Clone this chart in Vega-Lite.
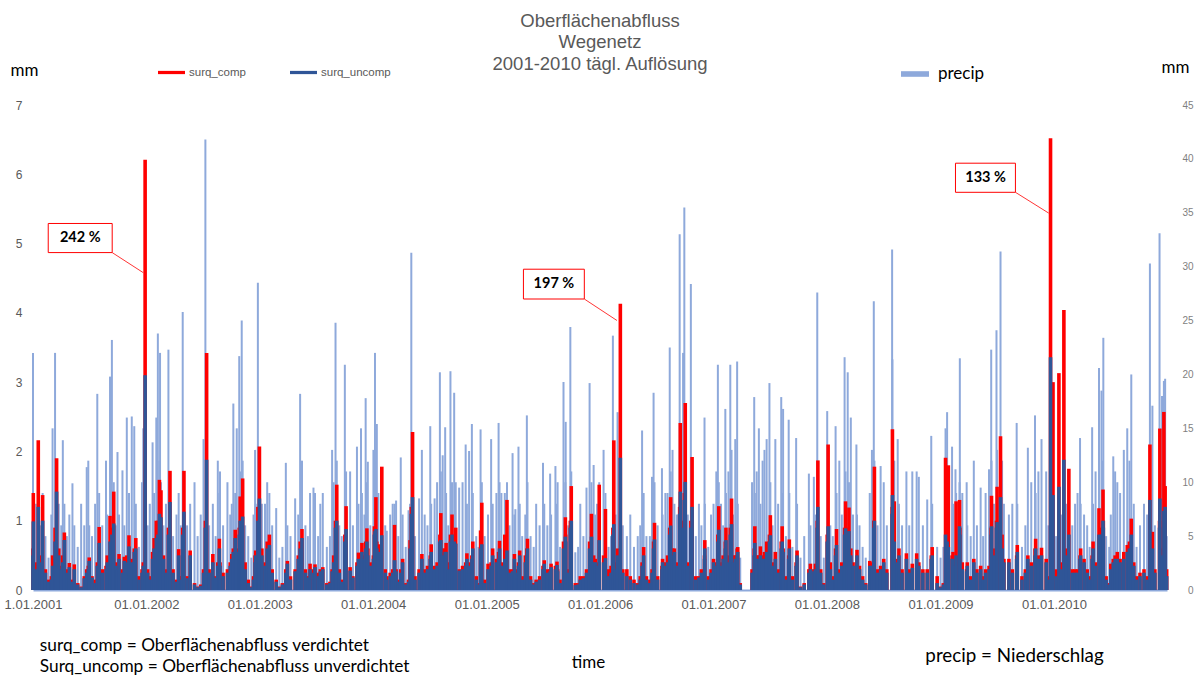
{
"$schema":"https://vega.github.io/schema/vega-lite/v6.json",
"autosize":{"type":"none"},
"padding":{"left":33,"top":105,"right":30,"bottom":87},
"width":1134,"height":485,
"background":"white",
"config":{"view":{"stroke":null}},
"title":{"text":["Oberflächenabfluss","Wegenetz","2001-2010 tägl. Auflösung"],"font":"Liberation Sans","fontSize":18.5,"fontWeight":"normal","color":"#595959","lineHeight":21.5,"anchor":"middle","frame":"group","offset":31,"dy":46},
"datasets":{
"main":[
{"t":"2001-01-01","p":22,"c":0.6,"u":0.5},
{"t":"2001-01-02","p":9,"c":1.4,"u":0.99},
{"t":"2001-01-10","p":8,"c":0.4,"u":0.3},
{"t":"2001-01-18","p":12,"c":2.16,"u":1.2},
{"t":"2001-01-25","p":6,"c":0.5,"u":0.4},
{"t":"2001-02-01","p":9,"c":1.37,"u":1.0},
{"t":"2001-02-10","p":5,"c":0.3,"u":0.25},
{"t":"2001-02-20","p":3,"c":0.15,"u":0.12},
{"t":"2001-03-01","p":7,"c":0.2,"u":0.15},
{"t":"2001-03-05","p":15,"c":0.5,"u":0.35},
{"t":"2001-03-13","p":22,"c":0.9,"u":0.7},
{"t":"2001-03-18","p":12,"c":1.9,"u":1.42},
{"t":"2001-03-25","p":8,"c":0.6,"u":0.5},
{"t":"2001-04-02","p":6,"c":0.35,"u":0.3},
{"t":"2001-04-07","p":13.9,"c":0.5,"u":0.4},
{"t":"2001-04-12","p":8,"c":0.83,"u":0.72},
{"t":"2001-04-20","p":5,"c":0.3,"u":0.25},
{"t":"2001-04-28","p":7,"c":0.39,"u":0.33},
{"t":"2001-05-08","p":9.9,"c":0.15,"u":0.12},
{"t":"2001-05-14","p":6,"c":0.37,"u":0.3},
{"t":"2001-05-25","p":4,"c":0.1,"u":0.08},
{"t":"2001-06-05","p":8,"c":0.05,"u":0.04},
{"t":"2001-06-15","p":6,"c":0.2,"u":0.17},
{"t":"2001-06-23","p":11.4,"c":0.3,"u":0.25},
{"t":"2001-06-28","p":12,"c":0.35,"u":0.3},
{"t":"2001-07-01","p":6,"c":0.47,"u":0.42},
{"t":"2001-07-10","p":5,"c":0.2,"u":0.18},
{"t":"2001-07-20","p":8,"c":0.15,"u":0.1},
{"t":"2001-07-27","p":18.2,"c":0.4,"u":0.35},
{"t":"2001-08-02","p":9,"c":0.91,"u":0.68},
{"t":"2001-08-12","p":6,"c":0.3,"u":0.25},
{"t":"2001-08-24","p":12,"c":0.35,"u":0.3},
{"t":"2001-08-28","p":7,"c":0.5,"u":0.4},
{"t":"2001-09-06","p":19.8,"c":1.07,"u":0.7},
{"t":"2001-09-12","p":23.2,"c":0.9,"u":0.8},
{"t":"2001-09-18","p":10,"c":1.42,"u":0.96},
{"t":"2001-09-25","p":6,"c":0.4,"u":0.35},
{"t":"2001-09-30","p":12.8,"c":0.35,"u":0.3},
{"t":"2001-10-05","p":7,"c":0.52,"u":0.45},
{"t":"2001-10-16","p":11.1,"c":0.3,"u":0.25},
{"t":"2001-10-22","p":6,"c":0.48,"u":0.42},
{"t":"2001-10-30","p":16,"c":0.5,"u":0.4},
{"t":"2001-11-06","p":9,"c":0.79,"u":0.63},
{"t":"2001-11-15","p":16.1,"c":0.45,"u":0.4},
{"t":"2001-11-23","p":15.2,"c":0.6,"u":0.55},
{"t":"2001-11-28","p":8,"c":0.75,"u":0.6},
{"t":"2001-12-08","p":4,"c":0.2,"u":0.15},
{"t":"2001-12-18","p":10,"c":0.3,"u":0.25},
{"t":"2001-12-22","p":15,"c":0.4,"u":0.35},
{"t":"2001-12-28","p":15,"c":6.21,"u":3.1},
{"t":"2002-01-05","p":6,"c":0.3,"u":0.25},
{"t":"2002-01-12","p":8,"c":0.2,"u":0.15},
{"t":"2002-01-21","p":13.7,"c":0.55,"u":0.45},
{"t":"2002-01-26","p":9,"c":0.75,"u":0.6},
{"t":"2002-02-02","p":16,"c":1.0,"u":0.75},
{"t":"2002-02-07","p":23.8,"c":1.0,"u":0.8},
{"t":"2002-02-12","p":12,"c":1.59,"u":1.1},
{"t":"2002-02-14","p":22,"c":0.9,"u":0.8},
{"t":"2002-02-17","p":10,"c":1.44,"u":1.05},
{"t":"2002-02-25","p":6,"c":0.5,"u":0.45},
{"t":"2002-03-05","p":8,"c":0.3,"u":0.25},
{"t":"2002-03-13","p":22.3,"c":0.9,"u":0.8},
{"t":"2002-03-18","p":11,"c":1.72,"u":1.27},
{"t":"2002-03-28","p":5,"c":0.3,"u":0.25},
{"t":"2002-04-08","p":7,"c":0.15,"u":0.12},
{"t":"2002-04-15","p":9,"c":0.59,"u":0.5},
{"t":"2002-04-22","p":6,"c":0.2,"u":0.15},
{"t":"2002-04-28","p":25.8,"c":0.9,"u":0.8},
{"t":"2002-05-02","p":10,"c":1.72,"u":1.13},
{"t":"2002-05-12","p":6,"c":0.2,"u":0.17},
{"t":"2002-05-22","p":8,"c":0.57,"u":0.5},
{"t":"2002-06-05","p":10,"c":0.1,"u":0.08},
{"t":"2002-06-15","p":5,"c":0.05,"u":0.04},
{"t":"2002-06-25","p":7,"c":0.08,"u":0.06},
{"t":"2002-07-04","p":14,"c":0.3,"u":0.25},
{"t":"2002-07-10","p":41.8,"c":1.0,"u":0.9},
{"t":"2002-07-14","p":12,"c":3.42,"u":1.88},
{"t":"2002-07-22","p":6,"c":0.3,"u":0.25},
{"t":"2002-08-03","p":8,"c":0.52,"u":0.4},
{"t":"2002-08-12","p":5,"c":0.2,"u":0.18},
{"t":"2002-08-19","p":12,"c":0.4,"u":0.35},
{"t":"2002-08-24","p":9,"c":0.74,"u":0.6},
{"t":"2002-08-26","p":11,"c":0.4,"u":0.35},
{"t":"2002-09-05","p":6,"c":0.25,"u":0.2},
{"t":"2002-09-19","p":10,"c":0.3,"u":0.25},
{"t":"2002-09-28","p":7,"c":0.4,"u":0.35},
{"t":"2002-10-03","p":8,"c":0.52,"u":0.45},
{"t":"2002-10-08","p":17.3,"c":0.6,"u":0.55},
{"t":"2002-10-14","p":9,"c":0.87,"u":0.75},
{"t":"2002-10-19","p":15,"c":0.6,"u":0.55},
{"t":"2002-10-27","p":21.7,"c":0.9,"u":0.8},
{"t":"2002-10-30","p":11,"c":1.35,"u":1.0},
{"t":"2002-11-04","p":25,"c":1.0,"u":0.9},
{"t":"2002-11-07","p":12,"c":1.61,"u":1.06},
{"t":"2002-11-15","p":6,"c":0.4,"u":0.3},
{"t":"2002-11-25","p":5,"c":0.15,"u":0.1},
{"t":"2002-12-05","p":3,"c":0.05,"u":0.04},
{"t":"2002-12-12","p":7,"c":0.2,"u":0.15},
{"t":"2002-12-17","p":13,"c":0.5,"u":0.4},
{"t":"2002-12-19","p":8,"c":0.57,"u":0.5},
{"t":"2002-12-26","p":28.5,"c":1.2,"u":1.0},
{"t":"2002-12-31","p":12,"c":2.07,"u":1.32},
{"t":"2003-01-08","p":8,"c":0.6,"u":0.5},
{"t":"2003-01-18","p":8,"c":0.4,"u":0.35},
{"t":"2003-01-25","p":10,"c":0.7,"u":0.6},
{"t":"2003-02-01","p":9,"c":0.8,"u":0.65},
{"t":"2003-02-10","p":6,"c":0.3,"u":0.25},
{"t":"2003-02-23","p":7.6,"c":0.15,"u":0.12},
{"t":"2003-03-05","p":3,"c":0.05,"u":0.04},
{"t":"2003-03-15","p":4,"c":0.1,"u":0.08},
{"t":"2003-03-26","p":11.8,"c":0.3,"u":0.25},
{"t":"2003-03-31","p":6,"c":0.42,"u":0.38},
{"t":"2003-04-10","p":5,"c":0.2,"u":0.15},
{"t":"2003-04-25","p":8.5,"c":0.3,"u":0.27},
{"t":"2003-05-05","p":7,"c":0.5,"u":0.45},
{"t":"2003-05-11","p":18.2,"c":0.7,"u":0.6},
{"t":"2003-05-17","p":12,"c":0.88,"u":0.75},
{"t":"2003-05-28","p":6,"c":0.3,"u":0.25},
{"t":"2003-06-05","p":5,"c":0.2,"u":0.18},
{"t":"2003-06-12","p":9,"c":0.38,"u":0.3},
{"t":"2003-06-23","p":9.5,"c":0.3,"u":0.25},
{"t":"2003-06-28","p":9,"c":0.37,"u":0.33},
{"t":"2003-07-08","p":5,"c":0.25,"u":0.2},
{"t":"2003-07-15","p":8,"c":0.3,"u":0.27},
{"t":"2003-07-23","p":9,"c":0.33,"u":0.3},
{"t":"2003-08-05","p":4,"c":0.1,"u":0.08},
{"t":"2003-08-15","p":5,"c":0.12,"u":0.1},
{"t":"2003-08-22","p":13,"c":0.3,"u":0.27},
{"t":"2003-08-27","p":10,"c":0.5,"u":0.4},
{"t":"2003-09-02","p":24.8,"c":1.0,"u":0.9},
{"t":"2003-09-06","p":12,"c":1.52,"u":1.0},
{"t":"2003-09-14","p":6,"c":0.3,"u":0.25},
{"t":"2003-09-22","p":5,"c":0.15,"u":0.12},
{"t":"2003-10-02","p":20.9,"c":0.8,"u":0.7},
{"t":"2003-10-06","p":11,"c":1.21,"u":0.88},
{"t":"2003-10-19","p":11,"c":0.33,"u":0.28},
{"t":"2003-10-28","p":6,"c":0.2,"u":0.18},
{"t":"2003-11-10","p":13.3,"c":0.4,"u":0.35},
{"t":"2003-11-15","p":8,"c":0.54,"u":0.45},
{"t":"2003-11-23","p":15,"c":0.5,"u":0.45},
{"t":"2003-11-26","p":9,"c":0.68,"u":0.55},
{"t":"2003-12-04","p":7,"c":0.5,"u":0.45},
{"t":"2003-12-08","p":17.8,"c":0.7,"u":0.6},
{"t":"2003-12-12","p":10,"c":0.89,"u":0.7},
{"t":"2003-12-15","p":11.9,"c":0.6,"u":0.5},
{"t":"2003-12-23","p":6,"c":0.4,"u":0.35},
{"t":"2004-01-02","p":13,"c":0.5,"u":0.45},
{"t":"2004-01-05","p":11,"c":0.92,"u":0.8},
{"t":"2004-01-07","p":22,"c":0.9,"u":0.85},
{"t":"2004-01-10","p":12,"c":1.34,"u":0.88},
{"t":"2004-01-13","p":15.4,"c":0.7,"u":0.6},
{"t":"2004-01-18","p":9,"c":0.66,"u":0.55},
{"t":"2004-01-29","p":10,"c":1.78,"u":0.79},
{"t":"2004-02-09","p":6,"c":0.3,"u":0.25},
{"t":"2004-02-14","p":5.5,"c":0.2,"u":0.15},
{"t":"2004-02-25","p":7,"c":0.25,"u":0.2},
{"t":"2004-03-04","p":8,"c":0.3,"u":0.25},
{"t":"2004-03-10","p":8,"c":0.94,"u":0.43},
{"t":"2004-03-15","p":8.3,"c":0.3,"u":0.27},
{"t":"2004-03-22","p":5,"c":0.15,"u":0.12},
{"t":"2004-03-30","p":12.3,"c":0.3,"u":0.25},
{"t":"2004-04-05","p":7,"c":0.45,"u":0.4},
{"t":"2004-04-15","p":4,"c":0.1,"u":0.08},
{"t":"2004-04-24","p":7.4,"c":0.15,"u":0.12},
{"t":"2004-04-29","p":8,"c":0.72,"u":0.6},
{"t":"2004-05-03","p":31.3,"c":1.2,"u":1.1},
{"t":"2004-05-07","p":12,"c":2.28,"u":1.34},
{"t":"2004-05-15","p":5,"c":0.2,"u":0.15},
{"t":"2004-05-28","p":8.5,"c":0.3,"u":0.25},
{"t":"2004-06-06","p":13,"c":0.52,"u":0.45},
{"t":"2004-06-15","p":7,"c":0.3,"u":0.25},
{"t":"2004-06-24","p":6,"c":0.35,"u":0.3},
{"t":"2004-07-03","p":15.2,"c":0.5,"u":0.45},
{"t":"2004-07-06","p":8,"c":0.66,"u":0.55},
{"t":"2004-07-17","p":8.5,"c":0.35,"u":0.3},
{"t":"2004-07-25","p":10,"c":0.4,"u":0.35},
{"t":"2004-08-03","p":20.2,"c":0.8,"u":0.7},
{"t":"2004-08-06","p":11,"c":1.11,"u":0.72},
{"t":"2004-08-12","p":12.5,"c":0.6,"u":0.5},
{"t":"2004-08-20","p":15.1,"c":0.6,"u":0.55},
{"t":"2004-08-23","p":9,"c":0.68,"u":0.55},
{"t":"2004-08-30","p":6,"c":0.4,"u":0.3},
{"t":"2004-09-06","p":20.3,"c":0.8,"u":0.7},
{"t":"2004-09-11","p":10,"c":1.09,"u":0.8},
{"t":"2004-09-18","p":18.3,"c":0.8,"u":0.7},
{"t":"2004-09-23","p":10,"c":0.9,"u":0.67},
{"t":"2004-10-04","p":9.5,"c":0.3,"u":0.28},
{"t":"2004-10-15","p":10,"c":0.35,"u":0.3},
{"t":"2004-10-25","p":13.5,"c":0.4,"u":0.35},
{"t":"2004-10-29","p":8,"c":0.53,"u":0.45},
{"t":"2004-11-05","p":12.9,"c":0.4,"u":0.35},
{"t":"2004-11-14","p":15.4,"c":0.5,"u":0.45},
{"t":"2004-11-17","p":9,"c":0.7,"u":0.6},
{"t":"2004-11-28","p":5,"c":0.2,"u":0.15},
{"t":"2004-12-05","p":4,"c":0.1,"u":0.08},
{"t":"2004-12-12","p":14.9,"c":0.86,"u":0.6},
{"t":"2004-12-16","p":10,"c":1.26,"u":0.66},
{"t":"2004-12-25","p":5,"c":0.15,"u":0.1},
{"t":"2005-01-05","p":7,"c":0.38,"u":0.3},
{"t":"2005-01-15","p":14,"c":0.4,"u":0.35},
{"t":"2005-01-20","p":8,"c":0.6,"u":0.5},
{"t":"2005-02-01","p":9,"c":0.45,"u":0.4},
{"t":"2005-02-08","p":15.5,"c":0.55,"u":0.45},
{"t":"2005-02-11","p":10,"c":0.71,"u":0.6},
{"t":"2005-02-17","p":9,"c":0.4,"u":0.35},
{"t":"2005-02-28","p":9,"c":0.8,"u":0.45},
{"t":"2005-03-07","p":10,"c":1.3,"u":0.57},
{"t":"2005-03-15","p":6,"c":0.3,"u":0.25},
{"t":"2005-03-25","p":12.7,"c":0.3,"u":0.27},
{"t":"2005-03-31","p":7,"c":0.52,"u":0.45},
{"t":"2005-04-03","p":7.5,"c":0.3,"u":0.25},
{"t":"2005-04-13","p":13.3,"c":0.4,"u":0.35},
{"t":"2005-04-17","p":8,"c":0.57,"u":0.5},
{"t":"2005-04-25","p":5,"c":0.2,"u":0.15},
{"t":"2005-05-05","p":7,"c":0.5,"u":0.4},
{"t":"2005-05-10","p":16.2,"c":0.6,"u":0.5},
{"t":"2005-05-12","p":10,"c":0.74,"u":0.6},
{"t":"2005-05-22","p":5,"c":0.2,"u":0.15},
{"t":"2005-06-01","p":4,"c":0.1,"u":0.08},
{"t":"2005-06-09","p":8,"c":0.15,"u":0.12},
{"t":"2005-06-20","p":6,"c":0.2,"u":0.15},
{"t":"2005-07-01","p":11.8,"c":0.35,"u":0.3},
{"t":"2005-07-05","p":8,"c":0.43,"u":0.38},
{"t":"2005-07-15","p":6,"c":0.3,"u":0.25},
{"t":"2005-07-24","p":10.8,"c":0.3,"u":0.27},
{"t":"2005-07-27","p":7,"c":0.38,"u":0.33},
{"t":"2005-08-10","p":11.5,"c":0.35,"u":0.3},
{"t":"2005-08-15","p":8,"c":0.41,"u":0.36},
{"t":"2005-08-17","p":10,"c":0.3,"u":0.27},
{"t":"2005-08-25","p":4,"c":0.15,"u":0.1},
{"t":"2005-09-05","p":19.3,"c":0.7,"u":0.6},
{"t":"2005-09-11","p":10,"c":1.05,"u":0.77},
{"t":"2005-09-12","p":15.6,"c":0.8,"u":0.7},
{"t":"2005-09-20","p":6,"c":0.3,"u":0.25},
{"t":"2005-09-27","p":24.4,"c":1.0,"u":0.9},
{"t":"2005-09-30","p":11,"c":1.5,"u":1.0},
{"t":"2005-10-13","p":3.5,"c":0.1,"u":0.07},
{"t":"2005-10-22","p":4,"c":0.1,"u":0.08},
{"t":"2005-10-29","p":8,"c":0.2,"u":0.15},
{"t":"2005-11-08","p":5,"c":0.2,"u":0.17},
{"t":"2005-11-18","p":9.5,"c":0.3,"u":0.25},
{"t":"2005-11-28","p":19.2,"c":0.7,"u":0.6},
{"t":"2005-12-04","p":10,"c":1.1,"u":0.77},
{"t":"2005-12-11","p":11.6,"c":0.5,"u":0.4},
{"t":"2005-12-16","p":7,"c":0.45,"u":0.4},
{"t":"2005-12-22","p":8,"c":0.4,"u":0.35},
{"t":"2005-12-29","p":10,"c":1.52,"u":0.72},
{"t":"2006-01-12","p":13,"c":0.5,"u":0.4},
{"t":"2006-01-18","p":9,"c":1.17,"u":0.46},
{"t":"2006-01-28","p":4,"c":0.3,"u":0.2},
{"t":"2006-02-05","p":5,"c":0.35,"u":0.25},
{"t":"2006-02-11","p":23.6,"c":0.9,"u":0.8},
{"t":"2006-02-14","p":12,"c":2.16,"u":0.95},
{"t":"2006-02-20","p":7,"c":0.4,"u":0.3},
{"t":"2006-02-26","p":16.5,"c":0.6,"u":0.5},
{"t":"2006-03-07","p":14,"c":4.13,"u":1.91},
{"t":"2006-03-15","p":6,"c":0.3,"u":0.25},
{"t":"2006-03-28","p":5,"c":0.3,"u":0.2},
{"t":"2006-04-08","p":7,"c":0.2,"u":0.15},
{"t":"2006-04-20","p":4,"c":0.15,"u":0.1},
{"t":"2006-05-02","p":5,"c":0.1,"u":0.08},
{"t":"2006-05-10","p":6,"c":0.2,"u":0.15},
{"t":"2006-05-16","p":14.8,"c":0.4,"u":0.35},
{"t":"2006-05-21","p":9,"c":0.62,"u":0.5},
{"t":"2006-05-30","p":5,"c":0.2,"u":0.15},
{"t":"2006-06-10","p":5,"c":0.15,"u":0.1},
{"t":"2006-06-17","p":10.5,"c":0.3,"u":0.25},
{"t":"2006-06-22","p":18.3,"c":0.7,"u":0.6},
{"t":"2006-06-25","p":10,"c":0.97,"u":0.73},
{"t":"2006-07-05","p":6,"c":0.2,"u":0.15},
{"t":"2006-07-19","p":11.3,"c":0.35,"u":0.3},
{"t":"2006-07-21","p":7,"c":0.45,"u":0.4},
{"t":"2006-07-30","p":9,"c":0.4,"u":0.35},
{"t":"2006-08-06","p":9,"c":0.5,"u":0.4},
{"t":"2006-08-13","p":22.5,"c":0.9,"u":0.8},
{"t":"2006-08-16","p":11,"c":1.34,"u":0.93},
{"t":"2006-08-22","p":13,"c":0.6,"u":0.5},
{"t":"2006-08-28","p":8,"c":0.6,"u":0.55},
{"t":"2006-09-05","p":7,"c":0.4,"u":0.35},
{"t":"2006-09-14","p":33,"c":1.2,"u":1.1},
{"t":"2006-09-16","p":12,"c":2.41,"u":1.42},
{"t":"2006-09-25","p":22,"c":1.0,"u":0.9},
{"t":"2006-09-29","p":35.5,"c":1.4,"u":1.3},
{"t":"2006-10-02","p":13,"c":2.7,"u":1.56},
{"t":"2006-10-10","p":7,"c":0.4,"u":0.35},
{"t":"2006-10-20","p":28.4,"c":1.0,"u":0.9},
{"t":"2006-10-24","p":11,"c":1.92,"u":1.2},
{"t":"2006-11-05","p":5,"c":0.2,"u":0.15},
{"t":"2006-11-15","p":8,"c":0.2,"u":0.18},
{"t":"2006-11-23","p":6,"c":0.3,"u":0.25},
{"t":"2006-12-03","p":16,"c":0.5,"u":0.45},
{"t":"2006-12-04","p":8,"c":0.72,"u":0.6},
{"t":"2006-12-15","p":4,"c":0.2,"u":0.15},
{"t":"2006-12-24","p":7,"c":0.3,"u":0.25},
{"t":"2007-01-01","p":8,"c":0.45,"u":0.4},
{"t":"2007-01-10","p":11,"c":0.4,"u":0.35},
{"t":"2007-01-15","p":20.9,"c":0.8,"u":0.7},
{"t":"2007-01-18","p":10,"c":1.21,"u":0.87},
{"t":"2007-01-25","p":8,"c":0.4,"u":0.35},
{"t":"2007-02-01","p":6,"c":0.5,"u":0.45},
{"t":"2007-02-08","p":16.8,"c":0.7,"u":0.6},
{"t":"2007-02-10","p":9,"c":0.9,"u":0.72},
{"t":"2007-02-18","p":11,"c":0.5,"u":0.4},
{"t":"2007-02-24","p":20.9,"c":0.9,"u":0.8},
{"t":"2007-02-28","p":13,"c":1.32,"u":0.95},
{"t":"2007-03-05","p":7,"c":0.5,"u":0.4},
{"t":"2007-03-12","p":14,"c":0.5,"u":0.45},
{"t":"2007-03-18","p":21.2,"c":0.6,"u":0.5},
{"t":"2007-03-20","p":8,"c":0.62,"u":0.55},
{"t":"2007-03-28","p":3,"c":0.1,"u":0.08},
{"t":"2007-05-05","p":10,"c":0.3,"u":0.25},
{"t":"2007-05-12","p":17.9,"c":0.6,"u":0.5},
{"t":"2007-05-14","p":9,"c":0.92,"u":0.68},
{"t":"2007-05-20","p":11,"c":0.5,"u":0.45},
{"t":"2007-05-27","p":15,"c":0.5,"u":0.45},
{"t":"2007-06-01","p":8,"c":0.63,"u":0.5},
{"t":"2007-06-08","p":12,"c":0.5,"u":0.45},
{"t":"2007-06-14","p":13,"c":0.55,"u":0.45},
{"t":"2007-06-21","p":14,"c":0.7,"u":0.55},
{"t":"2007-06-30","p":19.2,"c":0.8,"u":0.7},
{"t":"2007-07-03","p":10,"c":1.08,"u":0.79},
{"t":"2007-07-10","p":6,"c":0.4,"u":0.35},
{"t":"2007-07-19","p":14,"c":0.55,"u":0.45},
{"t":"2007-07-28","p":8,"c":0.3,"u":0.25},
{"t":"2007-08-07","p":17.9,"c":0.7,"u":0.6},
{"t":"2007-08-10","p":9,"c":0.92,"u":0.7},
{"t":"2007-08-13","p":16.8,"c":0.6,"u":0.55},
{"t":"2007-08-22","p":5,"c":0.2,"u":0.15},
{"t":"2007-08-31","p":15.8,"c":0.5,"u":0.45},
{"t":"2007-09-02","p":9,"c":0.73,"u":0.6},
{"t":"2007-09-12","p":4,"c":0.2,"u":0.15},
{"t":"2007-09-24","p":14.1,"c":0.4,"u":0.35},
{"t":"2007-09-27","p":8,"c":0.57,"u":0.5},
{"t":"2007-10-08","p":3,"c":0.05,"u":0.04},
{"t":"2007-10-20","p":5,"c":0.1,"u":0.08},
{"t":"2007-11-04","p":10.8,"c":0.3,"u":0.25},
{"t":"2007-11-09","p":6,"c":0.38,"u":0.3},
{"t":"2007-11-20","p":10.5,"c":0.3,"u":0.27},
{"t":"2007-11-25","p":7,"c":0.38,"u":0.3},
{"t":"2007-12-01","p":27.6,"c":1.0,"u":0.9},
{"t":"2007-12-03","p":12,"c":1.87,"u":1.2},
{"t":"2007-12-12","p":5,"c":0.3,"u":0.25},
{"t":"2007-12-22","p":3,"c":0.1,"u":0.08},
{"t":"2008-01-02","p":16.6,"c":0.8,"u":0.7},
{"t":"2008-01-05","p":10,"c":2.1,"u":0.92},
{"t":"2008-01-12","p":6,"c":0.4,"u":0.3},
{"t":"2008-01-20","p":5,"c":0.2,"u":0.15},
{"t":"2008-01-29","p":15.2,"c":0.6,"u":0.5},
{"t":"2008-02-01","p":9,"c":0.88,"u":0.65},
{"t":"2008-02-10","p":12,"c":0.3,"u":0.25},
{"t":"2008-02-18","p":7,"c":0.4,"u":0.35},
{"t":"2008-02-27","p":21.6,"c":0.9,"u":0.8},
{"t":"2008-03-01","p":11,"c":1.28,"u":0.89},
{"t":"2008-03-08","p":20.2,"c":0.9,"u":0.8},
{"t":"2008-03-12","p":10,"c":1.19,"u":0.85},
{"t":"2008-03-18","p":16,"c":0.6,"u":0.5},
{"t":"2008-03-25","p":7,"c":0.4,"u":0.35},
{"t":"2008-04-05","p":13.5,"c":0.4,"u":0.35},
{"t":"2008-04-07","p":7,"c":0.58,"u":0.5},
{"t":"2008-04-15","p":6,"c":0.35,"u":0.3},
{"t":"2008-04-25","p":4,"c":0.2,"u":0.15},
{"t":"2008-05-05","p":3,"c":0.1,"u":0.08},
{"t":"2008-05-18","p":9,"c":0.42,"u":0.35},
{"t":"2008-05-25","p":13,"c":0.4,"u":0.35},
{"t":"2008-05-31","p":26.8,"c":1.0,"u":0.9},
{"t":"2008-06-02","p":12,"c":1.78,"u":1.0},
{"t":"2008-06-12","p":6,"c":0.3,"u":0.25},
{"t":"2008-06-22","p":11.5,"c":0.35,"u":0.3},
{"t":"2008-07-02","p":10,"c":0.45,"u":0.4},
{"t":"2008-07-12","p":6,"c":0.3,"u":0.25},
{"t":"2008-07-29","p":31.6,"c":1.2,"u":1.1},
{"t":"2008-07-30","p":21.4,"c":2.32,"u":1.37},
{"t":"2008-08-05","p":12,"c":1.28,"u":0.7},
{"t":"2008-08-16","p":14,"c":0.45,"u":0.4},
{"t":"2008-08-20","p":8,"c":0.6,"u":0.5},
{"t":"2008-08-30","p":6,"c":0.3,"u":0.25},
{"t":"2008-09-13","p":11,"c":0.53,"u":0.45},
{"t":"2008-09-22","p":6,"c":0.3,"u":0.25},
{"t":"2008-10-02","p":11,"c":0.38,"u":0.32},
{"t":"2008-10-16","p":11,"c":0.53,"u":0.45},
{"t":"2008-10-23","p":10.5,"c":0.4,"u":0.35},
{"t":"2008-11-05","p":6,"c":0.3,"u":0.25},
{"t":"2008-11-19","p":8.4,"c":0.3,"u":0.25},
{"t":"2008-12-02","p":14.3,"c":0.5,"u":0.45},
{"t":"2008-12-05","p":8,"c":0.62,"u":0.5},
{"t":"2008-12-21","p":4,"c":0.2,"u":0.1},
{"t":"2009-01-01","p":3,"c":0.05,"u":0.04},
{"t":"2009-01-10","p":4,"c":0.1,"u":0.08},
{"t":"2009-01-17","p":15,"c":1.91,"u":0.8},
{"t":"2009-01-22","p":16.5,"c":0.9,"u":0.7},
{"t":"2009-01-26","p":10,"c":1.8,"u":0.62},
{"t":"2009-02-07","p":13.3,"c":0.5,"u":0.45},
{"t":"2009-02-10","p":8,"c":0.55,"u":0.45},
{"t":"2009-02-18","p":11.2,"c":0.4,"u":0.35},
{"t":"2009-02-20","p":9,"c":1.28,"u":0.5},
{"t":"2009-03-03","p":10,"c":1.3,"u":0.92},
{"t":"2009-03-04","p":21.5,"c":0.9,"u":0.8},
{"t":"2009-03-12","p":9,"c":0.4,"u":0.3},
{"t":"2009-03-26","p":10,"c":0.3,"u":0.27},
{"t":"2009-03-28","p":6,"c":0.4,"u":0.35},
{"t":"2009-04-08","p":5,"c":0.2,"u":0.15},
{"t":"2009-04-18","p":12,"c":0.45,"u":0.4},
{"t":"2009-04-28","p":6,"c":0.3,"u":0.25},
{"t":"2009-05-10","p":9.5,"c":0.35,"u":0.3},
{"t":"2009-05-18","p":5,"c":0.2,"u":0.15},
{"t":"2009-05-26","p":9,"c":0.3,"u":0.25},
{"t":"2009-06-06","p":11.2,"c":0.35,"u":0.3},
{"t":"2009-06-13","p":22.3,"c":0.9,"u":0.8},
{"t":"2009-06-14","p":12,"c":1.36,"u":0.92},
{"t":"2009-06-22","p":8,"c":0.6,"u":0.5},
{"t":"2009-06-30","p":24.1,"c":1.0,"u":0.9},
{"t":"2009-07-02","p":13,"c":1.49,"u":0.98},
{"t":"2009-07-13","p":31.4,"c":2.22,"u":1.34},
{"t":"2009-07-18","p":12,"c":0.8,"u":0.6},
{"t":"2009-07-24","p":8,"c":0.45,"u":0.4},
{"t":"2009-08-09","p":7,"c":0.45,"u":0.4},
{"t":"2009-08-20","p":8,"c":0.3,"u":0.25},
{"t":"2009-09-03","p":15.5,"c":0.5,"u":0.45},
{"t":"2009-09-05","p":8,"c":0.65,"u":0.55},
{"t":"2009-09-20","p":4,"c":0.2,"u":0.15},
{"t":"2009-10-01","p":6,"c":0.3,"u":0.25},
{"t":"2009-10-09","p":13.2,"c":0.5,"u":0.45},
{"t":"2009-10-20","p":10,"c":0.4,"u":0.35},
{"t":"2009-11-01","p":16.2,"c":0.6,"u":0.5},
{"t":"2009-11-03","p":9,"c":0.74,"u":0.6},
{"t":"2009-11-12","p":11,"c":0.5,"u":0.45},
{"t":"2009-11-22","p":14,"c":0.61,"u":0.5},
{"t":"2009-12-07","p":11,"c":0.45,"u":0.4},
{"t":"2009-12-14","p":6,"c":0.2,"u":0.15},
{"t":"2009-12-21","p":25,"c":6.52,"u":3.36},
{"t":"2009-12-29","p":13,"c":3.0,"u":1.37},
{"t":"2010-01-08","p":5,"c":0.3,"u":0.2},
{"t":"2010-01-17","p":14,"c":3.13,"u":1.49},
{"t":"2010-01-25","p":7,"c":0.4,"u":0.3},
{"t":"2010-02-02","p":16,"c":4.04,"u":1.88},
{"t":"2010-02-10","p":8,"c":0.6,"u":0.5},
{"t":"2010-02-18","p":10,"c":1.75,"u":0.8},
{"t":"2010-03-01","p":6,"c":0.3,"u":0.25},
{"t":"2010-03-10","p":8,"c":0.3,"u":0.25},
{"t":"2010-03-18","p":9,"c":0.3,"u":0.25},
{"t":"2010-03-26","p":14.1,"c":0.5,"u":0.45},
{"t":"2010-03-28","p":8,"c":0.6,"u":0.5},
{"t":"2010-04-08","p":7,"c":0.45,"u":0.4},
{"t":"2010-04-18","p":6,"c":0.3,"u":0.25},
{"t":"2010-04-26","p":4,"c":0.2,"u":0.15},
{"t":"2010-05-04","p":15.1,"c":0.5,"u":0.45},
{"t":"2010-05-07","p":8,"c":0.7,"u":0.6},
{"t":"2010-05-15","p":11,"c":0.4,"u":0.35},
{"t":"2010-05-26","p":20.6,"c":1.18,"u":0.8},
{"t":"2010-06-03","p":18.5,"c":0.9,"u":0.8},
{"t":"2010-06-08","p":12,"c":1.45,"u":1.0},
{"t":"2010-06-09","p":23.4,"c":1.0,"u":0.9},
{"t":"2010-06-18","p":5,"c":0.2,"u":0.15},
{"t":"2010-06-28","p":4,"c":0.1,"u":0.08},
{"t":"2010-07-03","p":7,"c":0.38,"u":0.3},
{"t":"2010-07-11","p":12.4,"c":0.45,"u":0.4},
{"t":"2010-07-17","p":11,"c":0.5,"u":0.45},
{"t":"2010-07-24","p":10,"c":0.55,"u":0.45},
{"t":"2010-08-02","p":9,"c":0.45,"u":0.4},
{"t":"2010-08-14","p":13,"c":0.55,"u":0.45},
{"t":"2010-08-25","p":15,"c":0.65,"u":0.55},
{"t":"2010-09-01","p":12,"c":0.7,"u":0.6},
{"t":"2010-09-07","p":20,"c":1.03,"u":0.8},
{"t":"2010-09-15","p":8,"c":0.4,"u":0.35},
{"t":"2010-09-24","p":4,"c":0.2,"u":0.15},
{"t":"2010-10-05","p":6,"c":0.25,"u":0.2},
{"t":"2010-10-18","p":8,"c":0.3,"u":0.25},
{"t":"2010-10-28","p":7,"c":0.2,"u":0.15},
{"t":"2010-11-06","p":30.3,"c":2.1,"u":1.3},
{"t":"2010-11-14","p":17.1,"c":0.84,"u":0.6},
{"t":"2010-11-22","p":6,"c":0.3,"u":0.25},
{"t":"2010-12-07","p":33.1,"c":1.0,"u":0.9},
{"t":"2010-12-08","p":15,"c":2.33,"u":1.32},
{"t":"2010-12-15","p":18,"c":0.6,"u":0.5},
{"t":"2010-12-21","p":19.4,"c":2.57,"u":1.14},
{"t":"2010-12-25","p":19.6,"c":1.5,"u":1.2},
{"t":"2010-12-30","p":5,"c":0.3,"u":0.2}
],
"ann":[
{"lab":"242 %","a":"2001-02-19","b":"2001-09-13","m":"2001-06-02","lo":4.87,"hi":5.29,"mid":5.08,"px":"2001-12-22","py":4.58},
{"lab":"197 %","a":"2005-04-29","b":"2005-11-11","m":"2005-08-05","lo":4.2,"hi":4.63,"mid":4.415,"px":"2006-02-24","py":3.89},
{"lab":"133 %","a":"2009-02-18","b":"2009-08-30","m":"2009-05-26","lo":5.74,"hi":6.16,"mid":5.95,"px":"2009-12-15","py":5.44}
],
"foot":[
{"txt":"surq_comp = Oberflächenabfluss verdichtet","d":"2001-01-23","v":-0.81},
{"txt":"Surq_uncomp = Oberflächenabfluss unverdichtet","d":"2001-01-23","v":-1.11}
],
"foot2":[
{"txt":"precip = Niederschlag","d":"2008-11-13","v":-0.95}
]
},
"layer":[
{"data":{"name":"main"},
 "mark":{"type":"bar","width":2},
 "encoding":{
  "x":{"field":"t","type":"temporal",
   "scale":{"domain":[{"year":2001,"month":1,"date":1},{"year":2010,"month":12,"date":31}],"padding":0},
   "axis":{"values":[{"year":2001,"month":1,"date":1},{"year":2002,"month":1,"date":1},{"year":2003,"month":1,"date":1},{"year":2004,"month":1,"date":1},{"year":2005,"month":1,"date":1},{"year":2006,"month":1,"date":1},{"year":2007,"month":1,"date":1},{"year":2008,"month":1,"date":1},{"year":2009,"month":1,"date":1},{"year":2010,"month":1,"date":1}],
    "labelExpr":"year(datum.value) == 2001 ? '1.01.2001' : timeFormat(datum.value, '%d.%m.%Y')",
    "labelFont":"Liberation Sans","labelFontSize":13,"labelColor":"#595959","labelPadding":8,"labelFlush":false,"labelOverlap":false,
    "ticks":false,"grid":false,"domainColor":"#8EA9DB","domainWidth":2,
    "title":"time","titleFont":"Lato","titleFontSize":17,"titleFontWeight":"normal","titleColor":"black","titleX":555,"titleY":72,"titleBaseline":"middle"}},
  "y":{"field":"p","type":"quantitative","scale":{"domain":[0,45]},
   "axis":{"orient":"right","values":[0,5,10,15,20,25,30,35,40,45],"grid":false,"domain":false,"ticks":false,"labelPadding":26,"labelAlign":"right","labelFont":"Liberation Sans","labelFontSize":10,"labelColor":"#7F7F7F",
    "title":"mm","titleAngle":0,"titleX":8,"titleY":-38,"titleAlign":"center","titleBaseline":"middle","titleFont":"Lato","titleFontSize":17,"titleFontWeight":"normal","titleColor":"black"}},
  "color":{"datum":"precip","scale":{"domain":["precip"],"range":["#8EA9DB"]},
   "legend":{"title":null,"orient":"none","legendX":867,"legendY":-46,"padding":0,"symbolType":"M-1,-0.2H1V0.2H-1Z","symbolSize":784,"symbolOpacity":1,"labelFont":"Lato","labelFontSize":17,"labelColor":"black","labelOffset":8}}
 }},
{"layer":[
 {"data":{"name":"main"},
  "mark":{"type":"bar","width":3.6},
  "encoding":{
   "x":{"field":"t","type":"temporal"},
   "y":{"field":"c","type":"quantitative","scale":{"domain":[0,7]},
    "axis":{"orient":"left","values":[0,1,2,3,4,5,6,7],"format":"d","grid":false,"domain":false,"ticks":false,"labelPadding":11,"labelFont":"Liberation Sans","labelFontSize":12,"labelColor":"#595959",
     "title":"mm","titleAngle":0,"titleX":-9,"titleY":-35,"titleAlign":"center","titleBaseline":"middle","titleFont":"Lato","titleFontSize":17,"titleFontWeight":"normal","titleColor":"black"}},
   "color":{"datum":"surq_comp","scale":{"domain":["surq_comp","surq_uncomp"],"range":["#FF0000","#2F5597"]},
    "legend":{"title":null,"orient":"none","legendX":124,"legendY":-47,"padding":0,"direction":"horizontal","symbolType":"M-1,-0.12H1V0.12H-1Z","symbolSize":729,"symbolOpacity":1,"labelFont":"Liberation Sans","labelFontSize":11.5,"labelColor":"#595959","labelOffset":3,"columnPadding":43}}
  }},
 {"data":{"name":"main"},
  "mark":{"type":"bar","width":3.6},
  "encoding":{
   "x":{"field":"t","type":"temporal"},
   "y":{"field":"u","type":"quantitative"},
   "color":{"datum":"surq_uncomp"}
  }},
 {"data":{"name":"ann"},
  "mark":{"type":"rule","color":"#FF0000","strokeWidth":0.8},
  "encoding":{"x":{"field":"b","type":"temporal"},"x2":{"field":"px"},"y":{"field":"lo","type":"quantitative"},"y2":{"field":"py"}}},
 {"data":{"name":"ann"},
  "mark":{"type":"rect","fill":"white","stroke":"#FF0000","strokeWidth":1},
  "encoding":{"x":{"field":"a","type":"temporal"},"x2":{"field":"b"},"y":{"field":"lo","type":"quantitative"},"y2":{"field":"hi"}}},
 {"data":{"name":"ann"},
  "mark":{"type":"text","font":"Lato","fontSize":14.5,"fontWeight":"bold","color":"black","align":"center","baseline":"middle"},
  "encoding":{"x":{"field":"m","type":"temporal"},"y":{"field":"mid","type":"quantitative"},"text":{"field":"lab"}}},
 {"data":{"name":"foot"},
  "mark":{"type":"text","font":"Lato","fontSize":17.3,"color":"black","align":"left","baseline":"middle"},
  "encoding":{"x":{"field":"d","type":"temporal"},"y":{"field":"v","type":"quantitative"},"text":{"field":"txt"}}},
 {"data":{"name":"foot2"},
  "mark":{"type":"text","font":"Lato","fontSize":18.8,"color":"black","align":"left","baseline":"middle"},
  "encoding":{"x":{"field":"d","type":"temporal"},"y":{"field":"v","type":"quantitative"},"text":{"field":"txt"}}}
]}
],
"resolve":{"scale":{"y":"independent","color":"independent"}}
}
